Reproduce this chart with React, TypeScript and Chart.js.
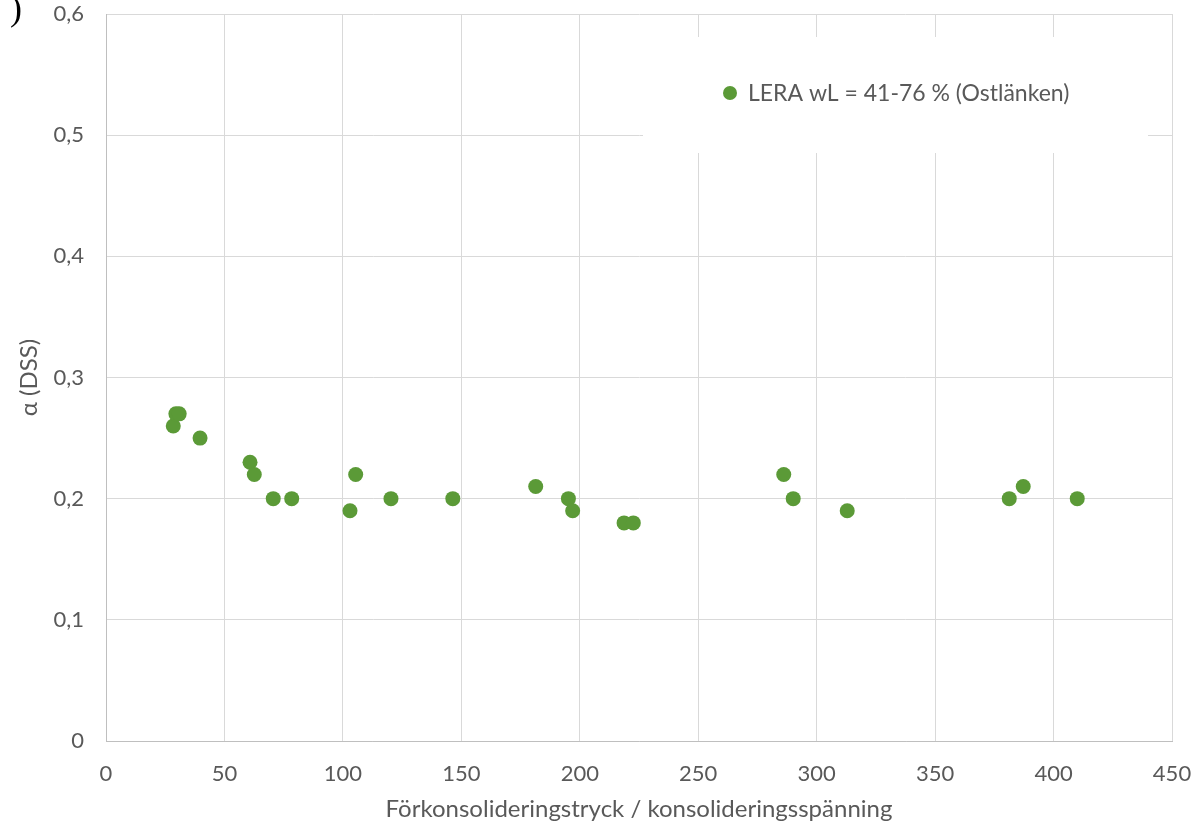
import React, { useEffect, useRef } from "react";
import { Chart, registerables } from "chart.js";

Chart.register(...registerables);

const seriesLabel = "LERA wL = 41-76 % (Ostlänken)";
const xValues = [28.4, 29.5, 30.9, 39.7, 60.8, 62.6, 70.6, 78.4, 103.0, 105.4, 120.3, 146.4, 181.4, 195.2, 197.0, 218.7, 222.6, 286.1, 290.1, 312.9, 381.3, 387.2, 410.0];
const yValues = [0.26, 0.27, 0.27, 0.25, 0.23, 0.22, 0.2, 0.2, 0.19, 0.22, 0.2, 0.2, 0.21, 0.2, 0.19, 0.18, 0.18, 0.22, 0.2, 0.19, 0.2, 0.21, 0.2];
const xTitle = "Förkonsolideringstryck / konsolideringsspänning";
const yTitle = "α (DSS)";

const GREEN = "#5b9a37";
const TEXT = "#595959";
const FONT = "Lato";

const legendPlugin = {
  id: "boxLegend",
  beforeDatasetsDraw(chart: any) {
    const { ctx, chartArea } = chart;
    const left = chartArea.left + 537;
    const right = chartArea.right - 24;
    const top = chartArea.top + 23;
    const bottom = chartArea.top + 139;
    ctx.save();
    ctx.fillStyle = "#ffffff";
    ctx.fillRect(left, top, right - left, bottom - top);
    const cy = chartArea.top + 79;
    ctx.fillStyle = GREEN;
    ctx.beginPath();
    ctx.arc(left + 87, cy, 7, 0, Math.PI * 2);
    ctx.fill();
    ctx.fillStyle = TEXT;
    ctx.font = `23px ${FONT}`;
    ctx.textBaseline = "middle";
    ctx.textAlign = "left";
    ctx.fillText(chart.data.datasets[0].label, left + 105, cy + 1);
    ctx.restore();
  },
};

export default function App() {
  const ref = useRef<HTMLCanvasElement>(null);
  useEffect(() => {
    if (!ref.current) return;
    const chart = new Chart(ref.current, {
      type: "scatter",
      data: {
        datasets: [
          {
            label: seriesLabel,
            data: xValues.map((x, i) => ({ x, y: yValues[i] })),
            backgroundColor: GREEN,
            borderColor: GREEN,
            pointRadius: 7.5,
            pointHoverRadius: 7.5,
            borderWidth: 0,
          },
        ],
      },
      options: {
        responsive: false,
        animation: false,
        layout: { padding: { top: 14, right: 23, bottom: 0, left: 0 } },
        plugins: {
          legend: { display: false },
          tooltip: { enabled: false },
        },
        scales: {
          x: {
            type: "linear",
            min: 0,
            max: 450,
            ticks: {
              stepSize: 50,
              color: TEXT,
              font: { family: FONT, size: 22 },
              padding: 20,
            },
            grid: { color: "#d9d9d9", drawTicks: false, lineWidth: 1 },
            border: { color: "#bfbfbf", width: 1 },
            title: {
              display: true,
              text: xTitle,
              color: TEXT,
              font: { family: FONT, size: 24 },
              padding: { top: 0, bottom: 2 },
            },
            afterFit: (s: any) => {
              s.height = 85;
              s.paddingLeft = 0;
              s.paddingRight = 0;
            },
          },
          y: {
            type: "linear",
            min: 0,
            max: 0.6,
            ticks: {
              stepSize: 0.1,
              color: TEXT,
              font: { family: FONT, size: 22 },
              padding: 22,
              callback: (v: any) => (Math.round(Number(v) * 10) / 10).toString().replace(".", ","),
            },
            grid: { color: "#d9d9d9", drawTicks: false, lineWidth: 1 },
            border: { color: "#bfbfbf", width: 1 },
            title: {
              display: true,
              text: yTitle,
              color: TEXT,
              font: { family: FONT, size: 24 },
              padding: { top: 15, bottom: 0 },
            },
            afterFit: (s: any) => {
              s.width = 106;
              s.paddingTop = 0;
              s.paddingBottom = 0;
            },
          },
        },
      },
      plugins: [legendPlugin],
    });
    return () => chart.destroy();
  }, []);

  return (
    <div style={{ position: "absolute", left: 0, top: 0, width: 1195, height: 826, background: "#fff", overflow: "hidden" }}>
      <canvas ref={ref} width={1195} height={826} style={{ display: "block" }} />
      <span
        style={{
          position: "absolute",
          left: 10,
          top: -12,
          fontFamily: "'Liberation Serif', serif",
          fontSize: 36,
          color: "#000",
          lineHeight: "40px",
        }}
      >
        )
      </span>
    </div>
  );
}
